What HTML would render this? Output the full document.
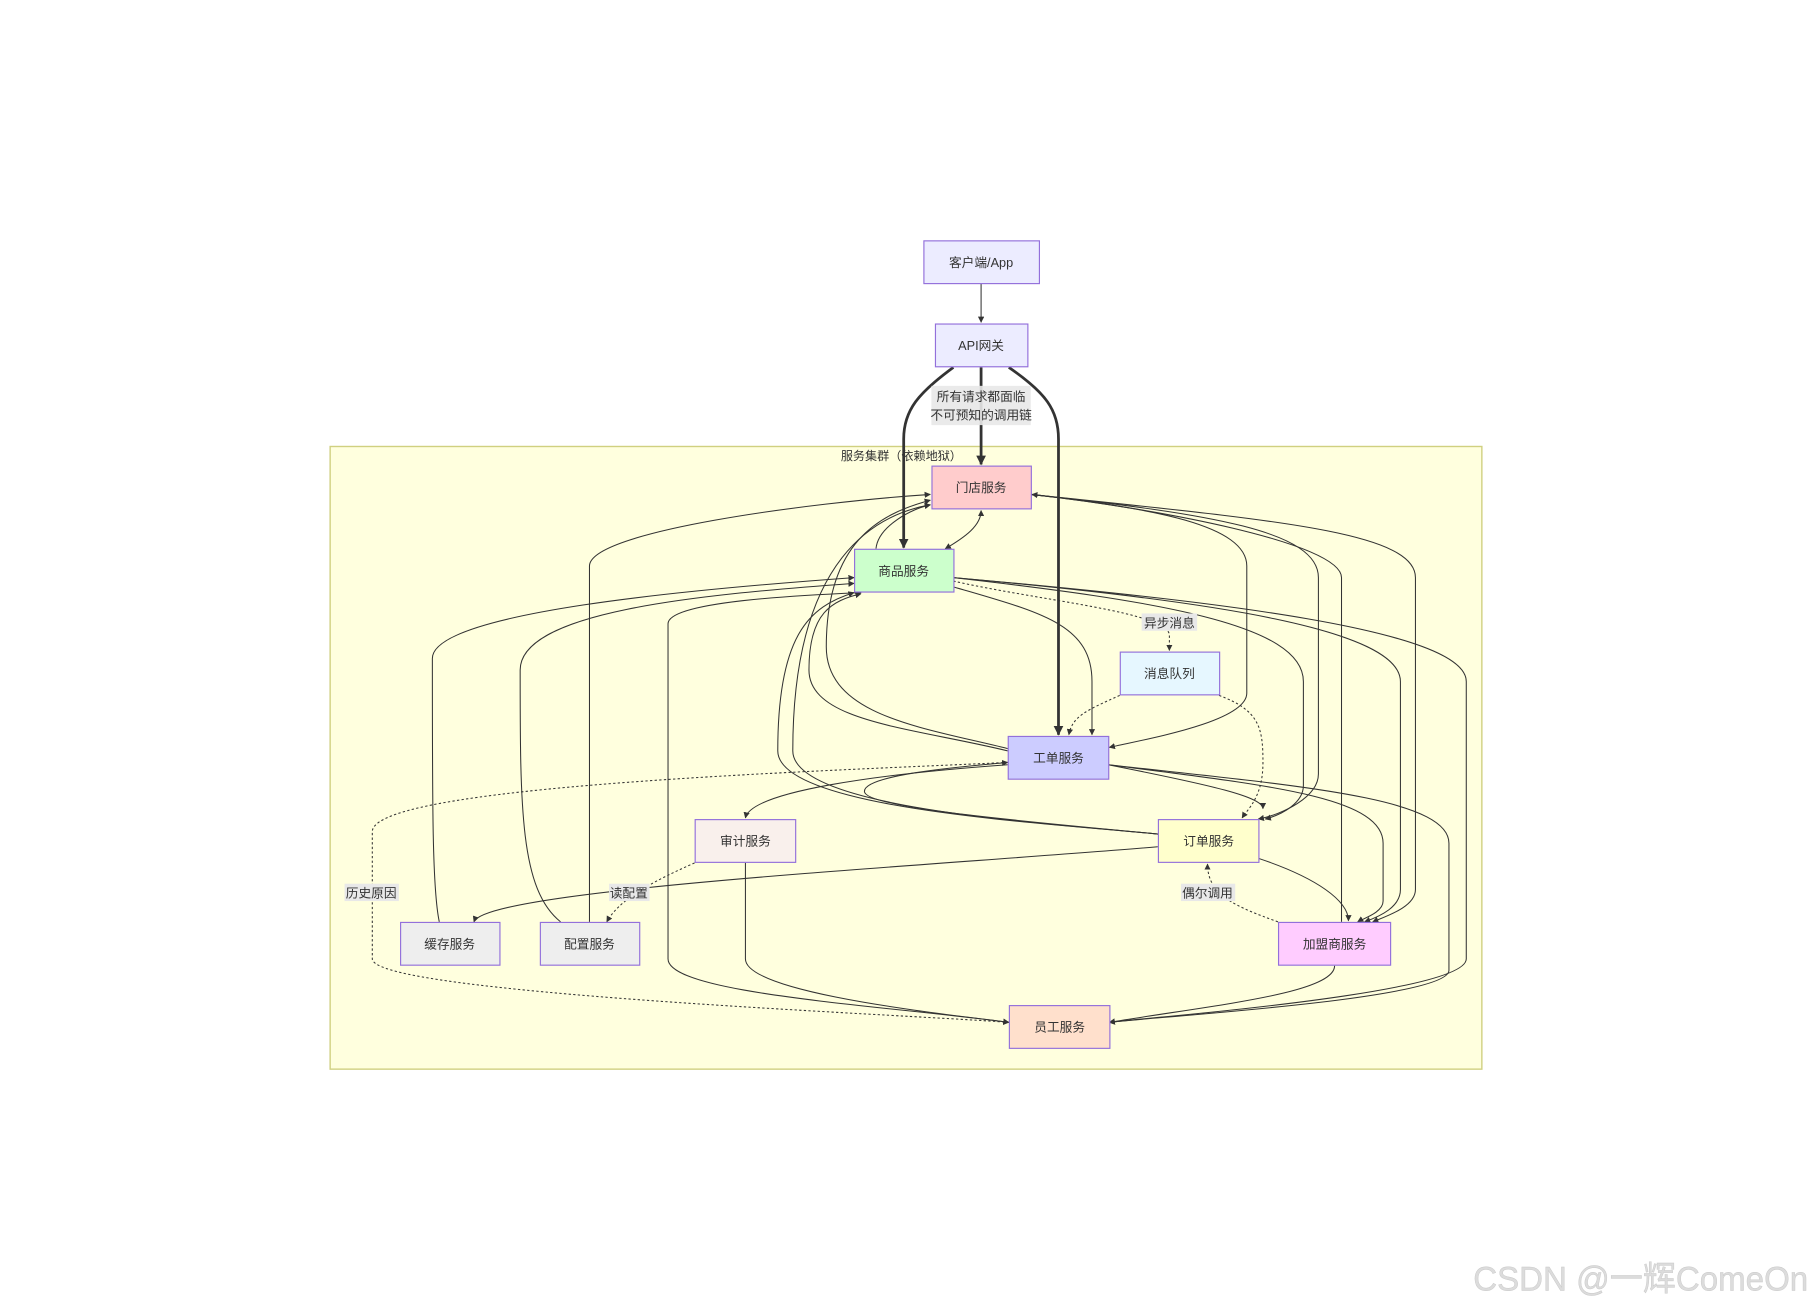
<!DOCTYPE html>
<html><head><meta charset="utf-8"><style>
html,body{margin:0;padding:0;background:#fff;}
svg{display:block;}
text{font-family:"Liberation Sans","Noto Sans CJK SC",sans-serif;}
</style></head><body>
<svg width="1812" height="1310" viewBox="0 0 1568 1134" xmlns="http://www.w3.org/2000/svg">
<defs>
<marker id="a" viewBox="0 0 10 10" refX="9" refY="5" markerWidth="6" markerHeight="6" orient="auto-start-reverse"><path d="M0,0L10,5L0,10z" fill="#333"/></marker>
<marker id="b" viewBox="0 0 10 10" refX="9" refY="5" markerWidth="3.5" markerHeight="3.5" orient="auto"><path d="M0,0L10,5L0,10z" fill="#333"/></marker>
</defs>
<rect x="285.5" y="386.5" width="997" height="539" fill="#ffffde" stroke="#d0d080" stroke-width="1.2"/>
<text x="780" y="398" font-size="10.5" text-anchor="middle" fill="#333">服务集群（依赖地狱）</text>
<g fill="none" stroke="#333" stroke-width="0.9" marker-end="url(#a)">
<path d="M849,245V279"/>
<path d="M758,475C760,455 790,440 805,437"/>
<path d="M818,475C835,465 849,455 849,442" marker-start="url(#a)"/>
<path d="M872,648C800,630 715,620 715,560C715,470 760,445 805,433"/>
<path d="M872,650C790,630 700,625 700,580C700,530 720,520 745,514"/>
<path d="M1002,722C900,712 686,700 686,650C686,480 760,445 805,437"/>
<path d="M1002,722C900,712 673,700 673,650C673,550 700,525 739,513"/>
<path d="M1002,722C900,712 748,700 748,685C748,670 840,663 872,660"/>
<path d="M1002,733C800,750 420,770 410,798"/>
<path d="M510,798V490C510,460 700,435 805,428"/>
<path d="M380,798C374,770 374,700 374,570C374,530 600,510 739,500"/>
<path d="M485,798C450,770 450,700 450,580C450,530 600,515 739,505"/>
<path d="M873,885C760,870 578,860 578,830V540C578,520 700,515 745,513"/>
<path d="M645,747V830C645,860 820,878 873,885"/>
<path d="M872,662C760,670 650,685 645,708"/>
<path d="M825,508C900,530 945,540 945,590V636"/>
<path d="M892,428C1000,440 1079,455 1079,490V600C1079,625 990,640 960,647"/>
<path d="M892,428C1050,445 1141,460 1141,500V670C1141,690 1110,705 1089,709"/>
<path d="M892,428C1100,450 1225,460 1225,500V770C1225,785 1200,793 1188,798"/>
<path d="M1161,798V500C1161,470 1000,440 893,428"/>
<path d="M825,500C1000,520 1128,540 1128,590V680C1128,695 1110,705 1095,709"/>
<path d="M825,500C1050,520 1212,545 1212,590V770C1212,785 1195,793 1181,798"/>
<path d="M825,500C1050,520 1269,545 1269,590V830C1269,860 1000,880 960,885"/>
<path d="M959,662C1050,680 1093,690 1093,700"/>
<path d="M959,662C1100,680 1197,690 1197,730V780C1197,790 1180,795 1175,798"/>
<path d="M959,662C1120,680 1254,690 1254,730V840C1254,865 1000,880 960,885"/>
<path d="M1089,743C1140,760 1167,780 1167,797"/>
<path d="M1155,836C1155,860 1050,870 960,885"/>
</g>
<g fill="none" stroke="#333" stroke-width="2.4" marker-end="url(#b)">
<path d="M849,318V402"/>
<path d="M825,318C795,340 782,355 782,380V474"/>
<path d="M873,318C905,340 916,355 916,380V636"/>
</g>
<g fill="none" stroke="#333" stroke-width="0.9" stroke-dasharray="2,2" marker-end="url(#a)">
<path d="M601,747C560,765 535,780 525,798"/>
<path d="M872,660C700,668 322,680 322,720V830C322,860 780,878 873,885"/>
<path d="M825,503C900,520 1012,530 1012,550V563"/>
<path d="M969,602C940,615 928,620 925,636"/>
<path d="M1055,602C1090,615 1093,630 1093,660C1093,690 1080,700 1075,708"/>
<path d="M1106,798C1070,785 1045,775 1045,748"/>
</g>
<g font-size="11" fill="#333" text-anchor="middle">
<rect x="806" y="334" width="86" height="34" fill="#e8e8e8" opacity="0.9"/>
<text x="849" y="347">所有请求都面临</text><text x="849" y="363">不可预知的调用链</text>
<rect x="988" y="531" width="48" height="15" fill="#e8e8e8"/><text x="1012" y="543">异步消息</text>
<rect x="527" y="765" width="35" height="15" fill="#e8e8e8"/><text x="544" y="777">读配置</text>
<rect x="1022" y="765" width="47" height="15" fill="#e8e8e8"/><text x="1045" y="777">偶尔调用</text>
<rect x="298" y="765" width="47" height="15" fill="#e8e8e8"/><text x="321" y="777">历史原因</text>
</g>
<g stroke="#9370db" stroke-width="1" font-size="11" text-anchor="middle">
<rect x="799.5" y="208.5" width="100" height="37" fill="#ececff"/>
<rect x="809.5" y="280.5" width="80" height="37" fill="#ececff"/>
<rect x="806.5" y="403.5" width="86" height="37" fill="#ffcccc"/>
<rect x="739.5" y="475.5" width="86" height="37" fill="#ccffcc"/>
<rect x="969.5" y="564.5" width="86" height="37" fill="#e6f7ff"/>
<rect x="872.5" y="637.5" width="87" height="37" fill="#ccccff"/>
<rect x="601.5" y="709.5" width="87" height="37" fill="#f9f0ec"/>
<rect x="1002.5" y="709.5" width="87" height="37" fill="#ffffcc"/>
<rect x="346.5" y="798.5" width="86" height="37" fill="#eeeeee"/>
<rect x="467.5" y="798.5" width="86" height="37" fill="#eeeeee"/>
<rect x="1106.5" y="798.5" width="97" height="37" fill="#ffccff"/>
<rect x="873.5" y="870.5" width="87" height="37" fill="#ffe0cc"/>
</g>
<g font-size="11" fill="#333" text-anchor="middle">
<text x="849" y="231">客户端/App</text>
<text x="849" y="303">API网关</text>
<text x="849" y="426">门店服务</text>
<text x="782" y="498">商品服务</text>
<text x="1012" y="587">消息队列</text>
<text x="916" y="660">工单服务</text>
<text x="645" y="732">审计服务</text>
<text x="1046" y="732">订单服务</text>
<text x="389" y="821">缓存服务</text>
<text x="510" y="821">配置服务</text>
<text x="1155" y="821">加盟商服务</text>
<text x="917" y="893">员工服务</text>
</g>
<text x="1275" y="1117" font-size="30" fill="#dcdcdc" stroke="#c8c8c8" stroke-width="0.4" textLength="290" lengthAdjust="spacingAndGlyphs">CSDN @一辉ComeOn</text>
</svg>
</body></html>
